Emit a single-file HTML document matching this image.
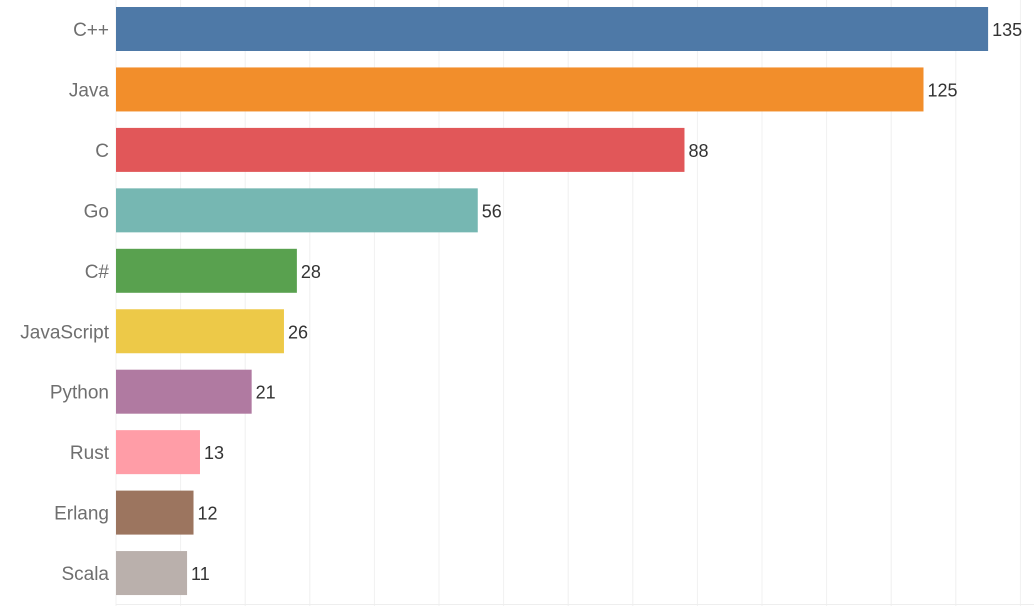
<!DOCTYPE html>
<html><head><meta charset="utf-8"><style>
html,body{margin:0;padding:0;background:#fff;}
svg{display:block;font-family:"Liberation Sans",sans-serif;}
</style></head><body>
<svg id="chart" width="1034" height="606"></svg>
<script>
const categories=["C++","Java","C","Go","C#","JavaScript","Python","Rust","Erlang","Scala"];
const values=[135,125,88,56,28,26,21,13,12,11];
const colors=["#4e79a7","#f28e2b","#e15759","#76b7b2","#59a14f","#edc948","#b07aa1","#ff9da7","#9c755f","#bab0ac"];
const NS="http://www.w3.org/2000/svg";
const svg=document.getElementById("chart");
const x0=116, pxPerUnit=6.46, band=60.45, barH=44, top0=7;
const xs=v=>x0+v*pxPerUnit;
function el(t,a){const e=document.createElementNS(NS,t);for(const k in a)e.setAttribute(k,a[k]);svg.appendChild(e);return e;}
for(let g=0;g<=140;g+=10){
  const l=el("line",{x1:xs(g),x2:xs(g),y1:0,y2:606,stroke:"#f0f0f0","stroke-width":1});
  
  
}
const base=el("line",{x1:x0,x2:1034,y1:604.5,y2:604.5,stroke:"#eeeeee","stroke-width":1});


categories.forEach((c,i)=>{
  const y=top0+i*band;
  const r=el("rect",{x:x0,y:y,width:xs(values[i])-x0,height:barH,fill:colors[i]});
  
  
  const t=el("text",{x:109,y:y+barH/2+7,"text-anchor":"end","font-size":19,fill:"#6f6f6f"});
  t.textContent=c;
  
  
  const v=el("text",{x:xs(values[i])+4,y:y+barH/2+7,"font-size":18,fill:"#333"});
  v.textContent=values[i];
  
  
});
</script>
</body></html>
